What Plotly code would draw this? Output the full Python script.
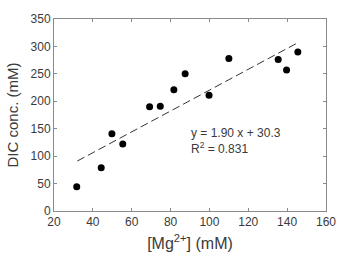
import plotly.graph_objects as go

mg = [31.7, 44.3, 49.8, 55.4, 69.2, 74.7, 81.7, 87.5, 99.8, 110.0, 135.4, 139.7, 145.5]
dic = [44, 79, 141, 122, 190, 191, 221, 250, 211, 278, 276, 257, 290]

slope = 1.90
intercept = 30.3
fit_x = [32, 146]
fit_y = [slope * v + intercept for v in fit_x]

x_ticks = [20, 40, 60, 80, 100, 120, 140, 160]
y_ticks = [0, 50, 100, 150, 200, 250, 300, 350]

font_family = "Arial, Liberation Sans, sans-serif"
text_col = "#3a3a3a"
axis_col = "#8a8a8a"

fig = go.Figure()
fig.add_trace(go.Scatter(x=fit_x, y=fit_y, mode="lines",
                         line=dict(color="#333333", width=1, dash="8px,4px"),
                         showlegend=False, hoverinfo="skip"))
fig.add_trace(go.Scatter(x=mg, y=dic, mode="markers",
                         marker=dict(color="black", size=7),
                         showlegend=False))

fig.add_annotation(x=89.5, y=158, xref="x", yref="y", xanchor="left", yanchor="top",
                   text="y = 1.90 x + 30.3<br>R<sup>2</sup> = 0.831", align="left",
                   showarrow=False, font=dict(size=12, color=text_col, family=font_family))

axis_common = dict(showline=True, linecolor=axis_col, linewidth=1, mirror="ticks",
                   ticks="inside", ticklen=3, tickcolor=axis_col, showgrid=False,
                   zeroline=False, tickfont=dict(size=12, color=text_col, family=font_family))

fig.update_xaxes(range=[20, 160], tickvals=x_ticks,
                 title=dict(text="[Mg<sup>2+</sup>] (mM)", font=dict(size=16, color=text_col, family=font_family), standoff=9),
                 **axis_common)
fig.update_yaxes(range=[0, 350], tickvals=y_ticks,
                 title=dict(text="DIC conc. (mM)", font=dict(size=15, color=text_col, family=font_family), standoff=8),
                 **axis_common)

fig.update_layout(width=348, height=262, margin=dict(l=54, r=13, t=17, b=49),
                  plot_bgcolor="white", paper_bgcolor="white",
                  font=dict(family=font_family, color=text_col))

fig.write_html("out.html")
